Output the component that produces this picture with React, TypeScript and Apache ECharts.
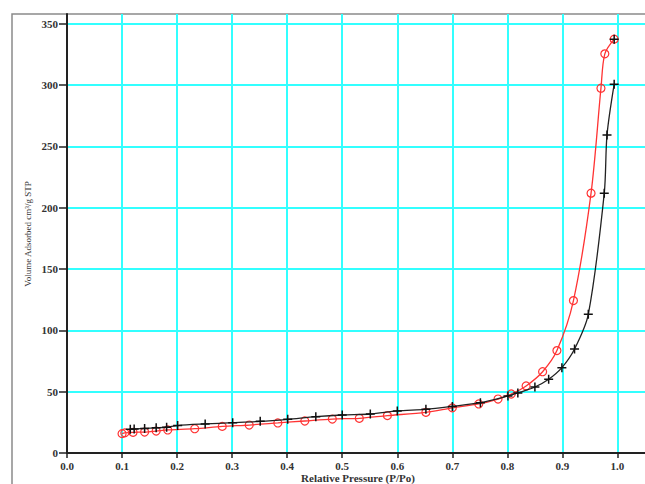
import React, { useEffect, useRef } from "react";
import * as echarts from "echarts";

const xTicks = [0, 0.1, 0.2, 0.3, 0.4, 0.5, 0.6, 0.7, 0.8, 0.9, 1.0];
const yTicks = [0, 50, 100, 150, 200, 250, 300, 350];

const adsP = [0.115, 0.122, 0.141, 0.162, 0.181, 0.201, 0.251, 0.301, 0.351, 0.401, 0.452, 0.5, 0.551, 0.6, 0.652, 0.7, 0.751, 0.801, 0.819, 0.85, 0.875, 0.899, 0.922, 0.947, 0.976, 0.981, 0.994];
const adsV = [19.3, 19.6, 20.0, 20.5, 21.0, 22.4, 23.7, 24.7, 25.8, 27.5, 29.6, 31.0, 31.8, 34.3, 35.6, 38.0, 41.0, 46.5, 49.0, 53.8, 60.1, 69.6, 84.8, 113.1, 211.9, 259.4, 300.8];
const adsTopP = 0.994;
const adsTopV = 337.5;

const desP = [0.994, 0.977, 0.97, 0.952, 0.92, 0.89, 0.864, 0.834, 0.807, 0.783, 0.748, 0.7, 0.652, 0.582, 0.531, 0.482, 0.432, 0.383, 0.331, 0.282, 0.232, 0.183, 0.162, 0.141, 0.12, 0.105, 0.1];
const desV = [337.5, 325.5, 297.5, 211.9, 124.3, 83.5, 66.3, 54.7, 48.1, 44.0, 40.0, 36.8, 33.2, 30.5, 28.3, 27.7, 26.1, 24.5, 22.8, 21.7, 19.8, 18.8, 17.9, 17.1, 16.9, 16.4, 15.8];

const xName = "Relative Pressure (P/Po)";
const yName = "Volume Adsorbed cm³/g STP";

const serif = "'Liberation Serif', 'Times New Roman', serif";

export default function App() {
  const ref = useRef<HTMLDivElement>(null);
  useEffect(() => {
    if (!ref.current) return;
    const chart = echarts.init(ref.current, null, { renderer: "svg" });
    const ads: any[] = adsP.map((p, i) => [p, adsV[i]]);
    ads.push("-");
    ads.push([adsTopP, adsTopV]);
    const des = desP.map((p, i) => [p, desV[i]]);
    const plus = "path://M0,5L10,5M5,0L5,10";
    chart.setOption({
      animation: false,
      backgroundColor: "#ffffff",
      grid: { left: 67, top: 14, bottom: 31, right: -3, containLabel: false },
      graphic: [
        {
          type: "rect",
          z: -10,
          shape: { x: 12, y: 14, width: 700, height: 600 },
          style: { fill: "none", stroke: "#8a8a8a", lineWidth: 1.5 },
        },
        {
          type: "text",
          x: 358,
          y: 478,
          style: {
            text: xName,
            font: `bold 11px ${serif}`,
            fill: "#333",
            textAlign: "center",
            textVerticalAlign: "middle",
          },
        },
        {
          type: "text",
          x: 28,
          y: 234,
          rotation: Math.PI / 2,
          style: {
            text: yName,
            font: `9px ${serif}`,
            fill: "#333",
            textAlign: "center",
            textVerticalAlign: "middle",
          },
        },
      ],
      xAxis: {
        type: "value",
        min: xTicks[0],
        max: 1.05,
        interval: 0.1,
        axisLine: { show: true, onZero: false, lineStyle: { color: "#222", width: 2 } },
        axisTick: { show: true, length: 5, lineStyle: { color: "#222", width: 1.5 } },
        axisLabel: {
          margin: 7,
          showMaxLabel: false,
          color: "#333",
          fontFamily: serif,
          fontWeight: "bold",
          fontSize: 11,
          formatter: (v: number) => (xTicks.some((t) => Math.abs(t - v) < 1e-6) ? v.toFixed(1) : ""),
        },
        splitLine: { show: true, showMinLine: false, showMaxLine: false, lineStyle: { color: "#33ffff", width: 2 } },
      },
      yAxis: {
        type: "value",
        min: yTicks[0],
        max: 358,
        interval: 50,
        axisLine: { show: true, onZero: false, lineStyle: { color: "#222", width: 2 } },
        axisTick: { show: true, length: 8, lineStyle: { color: "#222", width: 1.5 } },
        axisLabel: {
          margin: 9,
          showMaxLabel: false,
          color: "#333",
          fontFamily: serif,
          fontWeight: "bold",
          fontSize: 11,
          formatter: (v: number) => (yTicks.includes(v) ? String(v) : ""),
        },
        splitLine: { show: true, showMinLine: false, showMaxLine: false, lineStyle: { color: "#33ffff", width: 2 } },
      },
      series: [
        {
          type: "line",
          name: "Adsorption",
          data: ads,
          smooth: 0.3,
          connectNulls: false,
          symbol: plus,
          symbolSize: 9,
          showSymbol: true,
          lineStyle: { color: "#222", width: 1.3 },
          itemStyle: { color: "none", borderColor: "#111", borderWidth: 1.5 },
          z: 3,
        },
        {
          type: "line",
          name: "Desorption",
          data: des,
          smooth: 0.3,
          symbol: "circle",
          symbolSize: 8,
          showSymbol: true,
          lineStyle: { color: "#ff3333", width: 1.3 },
          itemStyle: { color: "none", borderColor: "#ff3333", borderWidth: 1.2 },
          z: 2,
        },
      ],
    });
    return () => chart.dispose();
  }, []);
  return <div ref={ref} style={{ position: "absolute", left: 0, top: 0, width: 645, height: 484 }} />;
}
